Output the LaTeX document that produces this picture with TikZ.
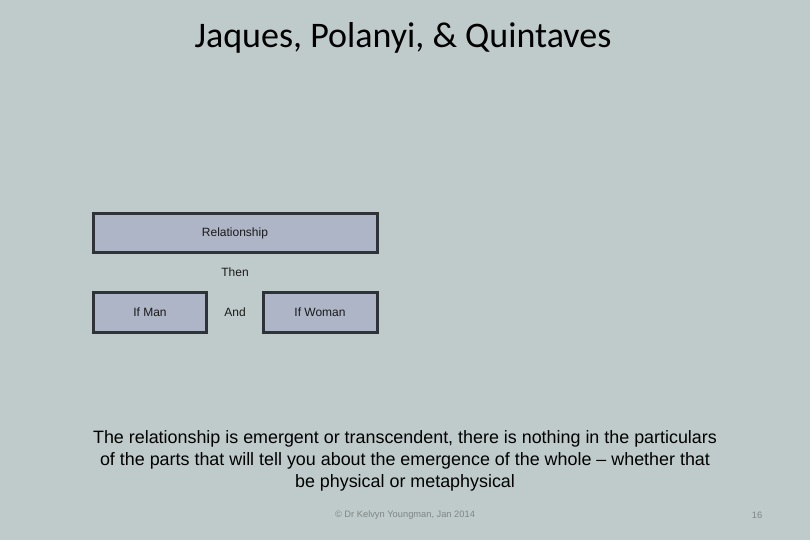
\documentclass[tikz,border=0pt]{standalone}
\usepackage{fontspec}
\setmainfont{Liberation Sans}
\newfontfamily\titlefont{Carlito}
\definecolor{bgc}{HTML}{BFCBCB}
\definecolor{boxfill}{HTML}{ADB5C7}
\definecolor{boxline}{HTML}{2F3337}
\definecolor{foot}{HTML}{7F8585}
\tikzset{
  pbox/.style={draw=boxline, line width=3pt, fill=boxfill, inner sep=0pt},
  small/.style={font=\fontsize{12}{14}\selectfont, text=black!90},
}
\begin{document}
\begin{tikzpicture}[x=1pt,y=-1pt]
\fill[bgc] (0,0) rectangle (810,540);
\useasboundingbox (0,0) rectangle (810,540);
\node[font=\titlefont\fontsize{36}{42}\selectfont] (title) at (403,38) {Jaques, Polanyi, \& Quintaves};
\node[pbox, minimum width=284pt, minimum height=39pt] (rel) at (235,232.5) {};
\node[small] (reltxt) at (235,233) {Relationship};
\node[small] (then) at (235,272) {Then};
\node[pbox, minimum width=113pt, minimum height=40pt] (man) at (149.5,312) {};
\node[small] (mantxt) at (150,312.5) {If Man};
\node[small] (and) at (235,312.5) {And};
\node[pbox, minimum width=114pt, minimum height=40pt] (woman) at (320,312) {};
\node[small] (womantxt) at (320,312.5) {If Woman};
\node[font=\fontsize{17.9}{22}\selectfont, align=center] (para) at (405,461) {The relationship is emergent or transcendent, there is nothing in the particulars\\of the parts that will tell you about the emergence of the whole -- whether that\\be physical or metaphysical};
\node[font=\fontsize{9.3}{11}\selectfont, text=foot] (footer) at (405,515) {© Dr Kelvyn Youngman, Jan 2014};
\node[font=\fontsize{9.3}{11}\selectfont, text=foot] (page) at (757,515) {16};
\end{tikzpicture}
\end{document}
